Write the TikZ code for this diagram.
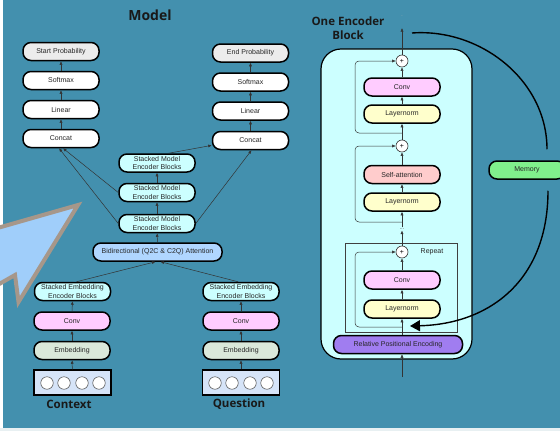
\documentclass[tikz,border=0pt]{standalone}
\usepackage{fontspec}
\setmainfont{Liberation Sans}
\newfontfamily\headfont{Open Sans}
\usepackage{tikz}
\usetikzlibrary{arrows.meta,calc}
\usepackage{xcolor}

\definecolor{bgteal}{RGB}{67,144,174}
\definecolor{stripgray}{RGB}{232,240,242}
\definecolor{pointerblue}{RGB}{160,206,250}
\definecolor{pointertan}{RGB}{166,151,138}
\definecolor{probgray}{RGB}{236,236,236}
\definecolor{stackcyan}{RGB}{204,255,255}
\definecolor{bidirblue}{RGB}{176,214,255}
\definecolor{convpink}{RGB}{255,204,255}
\definecolor{embgreen}{RGB}{218,232,218}
\definecolor{inputblue}{RGB}{214,228,248}
\definecolor{lnyellow}{RGB}{255,255,204}
\definecolor{attsalmon}{RGB}{255,204,204}
\definecolor{rpepurple}{RGB}{160,125,240}
\definecolor{memgreen}{RGB}{128,240,140}

\tikzset{
  blk/.style={draw=black, line width=1.5pt, rounded corners=8pt, minimum width=76pt,
    minimum height=18pt, inner sep=1pt, align=center, text=black!85,
    font=\fontsize{7}{8.3}\selectfont},
  wideblk/.style={blk, minimum width=129pt},
  link/.style={-{Latex[length=3.5pt,width=3pt]}, draw=black!80, line width=0.5pt},
  skip/.style={link, rounded corners=4pt},
  plus/.style={circle, draw=black!80, fill=white, line width=0.6pt, minimum size=12pt,
    inner sep=0pt, font=\fontsize{7}{7}\selectfont},
  tok/.style={circle, draw=black!70, fill=white, line width=0.5pt, minimum size=12.5pt, inner sep=0pt},
  inbox/.style={draw=black, line width=1.2pt, fill=inputblue, minimum width=77pt, minimum height=25pt},
  headline/.style={text=black!90, font=\headfont\bfseries\fontsize{11.5}{14}\selectfont, align=center}
}

\begin{document}
\begin{tikzpicture}[x=1pt, y=-1pt]
    \useasboundingbox (0, 0) rectangle (560, 431);
    \clip (0, 0) rectangle (560, 431);
    % Background
    \fill[white] (0, 0) rectangle (560, 431);
    \fill[bgteal] (3, 0) rectangle (560, 428);
    \fill[stripgray] (0, 428) rectangle (560, 431);

    % Pointer shape
    \draw[fill=pointerblue, draw=pointertan, line width=4pt, line join=miter]
        (-6, 229) -- (78, 205) -- (18.5, 302) -- (15, 275) -- (-6, 287) -- cycle;

    % Model title
    \node[headline, font=\headfont\bfseries\fontsize{14}{16}\selectfont] (modeltitle) at (150, 15) {Model};

    % Start column
    \node[blk, fill=probgray] (startp) at (61, 51.5) {Start Probability};
    \node[blk, fill=white] (lsoftmax) at (61, 80.5) {Softmax};
    \node[blk, fill=white] (llinear) at (61, 109.5) {Linear};
    \node[blk, fill=white] (lconcat) at (61, 138.5) {Concat};

    % End column
    \node[blk, fill=probgray] (endp) at (250.5, 53) {End Probability};
    \node[blk, fill=white] (rsoftmax) at (250.5, 82) {Softmax};
    \node[blk, fill=white] (rlinear) at (250.5, 111) {Linear};
    \node[blk, fill=white] (rconcat) at (250.5, 140.5) {Concat};

    % Model encoder stack
    \node[blk, fill=stackcyan] (smb1) at (157, 163) {Stacked Model\\Encoder Blocks};
    \node[blk, fill=stackcyan] (smb2) at (157, 192.5) {Stacked Model\\Encoder Blocks};
    \node[blk, fill=stackcyan] (smb3) at (157, 223.5) {Stacked Model\\Encoder Blocks};
    \node[wideblk, fill=bidirblue] (bidir) at (157.5, 252) {Bidirectional (Q2C \& C2Q) Attention};

    % Context column
    \node[blk, fill=stackcyan] (cseb) at (72.5, 291.5) {Stacked Embedding\\Encoder Blocks};
    \node[blk, fill=convpink] (cconv) at (72, 321) {Conv};
    \node[blk, fill=embgreen] (cemb) at (72, 350.5) {Embedding};
    \node[inbox] (cin) at (72.5, 382.5) {};
    \foreach \i/\x in {1/47, 2/64, 3/82, 4/99}
        \node[tok] (ctok\i) at (\x, 383) {};
    \node[headline] (ctitle) at (69, 404) {Context};

    % Question column
    \node[blk, fill=stackcyan] (qseb) at (241, 291.5) {Stacked Embedding\\Encoder Blocks};
    \node[blk, fill=convpink] (qconv) at (241, 321) {Conv};
    \node[blk, fill=embgreen] (qemb) at (241, 350.5) {Embedding};
    \node[inbox] (qin) at (241, 382.5) {};
    \foreach \i/\x in {1/215, 2/232, 3/250, 4/267}
        \node[tok] (qtok\i) at (\x, 383) {};
    \node[headline] (qtitle) at (239, 404) {Question};

    % Model connectors
    \draw[link] (lsoftmax) -- (startp);
    \draw[link] (llinear) -- (lsoftmax);
    \draw[link] (lconcat) -- (llinear);
    \draw[link] (rsoftmax) -- (endp);
    \draw[link] (rlinear) -- (rsoftmax);
    \draw[link] (rconcat) -- (rlinear);
    \draw[link] (smb2.west) -- ($(lconcat.south)+(2, 0)$);
    \draw[link] (smb3.west) -- ($(lconcat.south)+(-2, 0)$);
    \draw[link] ($(smb1.north)!0.3!(smb1.north east)$) -- ($(rconcat.west)!0.5!(rconcat.south west)$);
    \draw[link] (smb3.east) -- ($(rconcat.south)+(1, 0)$);
    \draw[link] (smb2) -- (smb1);
    \draw[link] (smb3) -- (smb2);
    \draw[link] (bidir) -- (smb3);
    \draw[link] ($(cseb.north)+(4, 0)$) -- ($(bidir.south)+(-2, 0)$);
    \draw[link] ($(qseb.north)+(-3, 0)$) -- ($(bidir.south)+(3, 0)$);
    \draw[link] (cin) -- (cemb);
    \draw[link] (cemb) -- (cconv);
    \draw[link] (cconv) -- (cseb);
    \draw[link] (qin) -- (qemb);
    \draw[link] (qemb) -- (qconv);
    \draw[link] (qconv) -- (qseb);

    % One encoder block
    \node[headline] (enctitle) at (348, 28) {One Encoder\\Block};
    \node[draw=black, line width=1.2pt, fill=stackcyan, rounded corners=20pt,
        minimum width=151pt, minimum height=310pt] (encblock) at (396.5, 204) {};
    \node[draw=black!75, line width=0.8pt, minimum width=112pt, minimum height=89pt] (repeatbox) at (401, 287.5) {};
    \node[text=black!85, font=\fontsize{7}{8}\selectfont] (repeatlabel) at (432, 252) {Repeat};

    \node[plus] (plus1) at (402, 61) {+};
    \node[blk, fill=convpink] (conv1) at (402, 87) {Conv};
    \node[blk, fill=lnyellow] (ln1) at (402, 114) {Layernorm};
    \node[plus] (plus2) at (402, 146) {+};
    \node[blk, fill=attsalmon] (selfatt) at (402, 174.5) {Self-attention};
    \node[blk, fill=lnyellow] (ln2) at (402, 202) {Layernorm};
    \node[inner sep=1pt, text=black!60, font=\fontsize{6}{6}\selectfont] (dots) at (402, 229) {...};
    \node[plus] (plus3) at (402, 252) {+};
    \node[blk, fill=convpink] (conv2) at (402, 280) {Conv};
    \node[blk, fill=lnyellow] (ln3) at (402, 309) {Layernorm};
    \node[wideblk, fill=rpepurple] (rpe) at (398, 344.5) {Relative Positional Encoding};
    \node[inner sep=0pt, text=black!30, font=\fontsize{3}{3}\selectfont] (topdots) at (402, 16) {...};

    \coordinate (inbot) at (402, 377);
    \coordinate (outtop) at (402, 28);
    \draw[link] (inbot) -- (inbot |- rpe.south);
    \draw[link] (ln3 |- rpe.north) -- (ln3);
    \draw[link] (ln3) -- (conv2);
    \draw[link] (conv2) -- (plus3);
    \draw[link] (plus3) -- (dots);
    \draw[link] (dots) -- (ln2);
    \draw[link] (ln2) -- (selfatt);
    \draw[link] (selfatt) -- (plus2);
    \draw[link] (plus2) -- (ln1);
    \draw[link] (ln1) -- (conv1);
    \draw[link] (conv1) -- (plus1);
    \draw[link] (plus1) -- (outtop);

    % Residual skips
    \coordinate (skip1) at (402, 133);
    \coordinate (skip2) at (402, 222);
    \coordinate (skip3) at (402, 327);
    \draw[skip] (skip1) -- ++(-47, 0) |- (plus1);
    \draw[skip] (skip2) -- ++(-47, 0) |- (plus2);
    \draw[skip] (skip3) -- ++(-47, 0) |- (plus3);

    % Memory loop
    \node[blk, fill=memgreen] (memory) at (527, 170) {Memory};
    \coordinate (loopout) at (412, 33);
    \coordinate (memin) at ($(memory.north)+(20, -11)$);
    \coordinate (memout) at ($(memory.south)+(21, 11)$);
    \coordinate (loopin) at (410, 326);
    \draw[line width=1.4pt] (loopout) .. controls (480, 28) and (547, 80) .. (memin);
    \draw[line width=1.4pt, -{Triangle[length=10pt, width=11pt]}] (memout) .. controls (548, 280) and (490, 324) .. (loopin);
\end{tikzpicture}
\end{document}
